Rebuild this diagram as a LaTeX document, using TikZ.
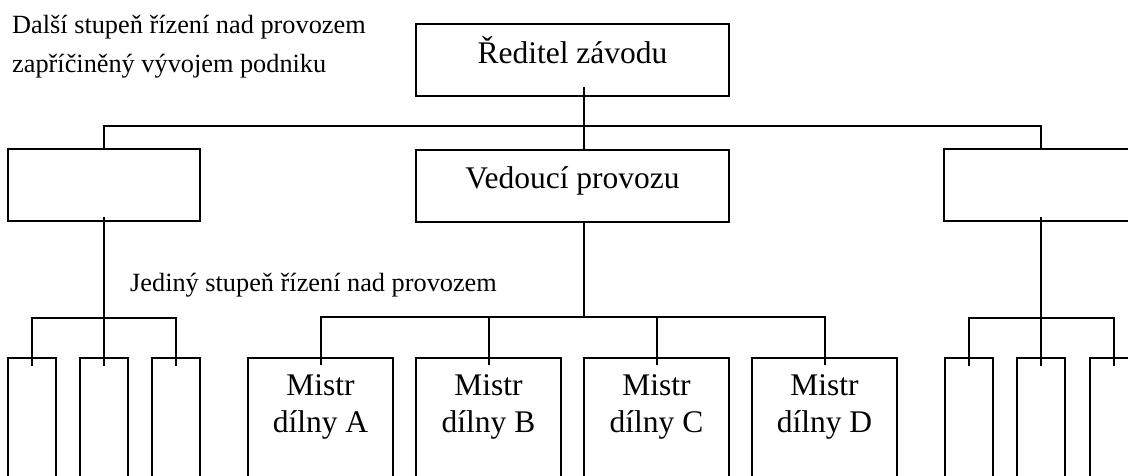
\documentclass[tikz,border=0pt]{standalone}
\usepackage{fontspec}
\setmainfont{Liberation Serif}
\tikzset{
  ln/.style={line width=2pt},
  bigbox/.style={draw, line width=2pt, minimum height=72pt, inner sep=0pt,
    font=\fontsize{31.5}{37}\selectfont, text height=20pt, text depth=14pt},
  mbox/.style={draw, line width=2pt, anchor=north, minimum width=145pt, minimum height=150pt, inner sep=0pt},
  sbox/.style={draw, line width=2pt, anchor=north, minimum width=48pt, minimum height=150pt, inner sep=0pt},
  mtext/.style={anchor=north, align=center, inner sep=0pt, yshift=-17.5pt,
    font=\fontsize{31.5}{37}\selectfont},
  smalltext/.style={anchor=base west, inner sep=0pt, font=\fontsize{26.3}{31}\selectfont},
}
\begin{document}
\begin{tikzpicture}[x=1pt,y=-1pt]
\useasboundingbox (0,0) rectangle (1128,475);
\clip (0,0) rectangle (1128,475);
% texts
\node[smalltext] (t1) at (12,33) {Další stupeň řízení nad provozem};
\node[smalltext] (t2) at (12,72) {zapříčiněný vývojem podniku};
\node[smalltext] (t3) at (130,291) {Jediný stupeň řízení nad provozem};
% top boxes
\node[bigbox, minimum width=313pt] (dir) at (572.5,60) {Ředitel závodu};
\node[bigbox, minimum width=313pt] (ved) at (572.5,185.5) {Vedoucí provozu};
\node[bigbox, minimum width=192pt] (lb) at (104,185) {};
\node[bigbox, minimum width=194pt] (rb) at (1041,185) {};
% mistr boxes
\node[mbox, label={[mtext]north:Mistr\\dílny A}] (ma) at (320.5,357) {};
\node[mbox, label={[mtext]north:Mistr\\dílny B}] (mb) at (488.5,357) {};
\node[mbox, label={[mtext]north:Mistr\\dílny C}] (mc) at (656.5,357) {};
\node[mbox, label={[mtext]north:Mistr\\dílny D}] (md) at (824.5,357) {};
% small boxes left
\node[sbox] (l1) at (32,357) {};
\node[sbox] (l2) at (104,357) {};
\node[sbox] (l3) at (176,357) {};
% small boxes right
\node[sbox] (r1) at (968.5,357) {};
\node[sbox] (r2) at (1041,357) {};
\node[sbox] (r3) at (1113.5,357) {};
% connectors
\coordinate (bus) at (584,126);
\coordinate (mbus) at (584,317);
\coordinate (lbus) at (104,318);
\coordinate (rbus) at (1041,318);
\draw[ln] ([yshift=10pt]bus |- dir.south) -- (bus |- ved.north);
\draw[ln] (lb.north) |- (bus) -| (rb.north);
\draw[ln] (bus |- ved.south) -- (mbus);
\draw[ln] ([yshift=-8pt]ma.north) |- (mbus) -| ([yshift=-8pt]md.north);
\draw[ln] ([yshift=-8pt]mb.north) -- (mb.north |- mbus);
\draw[ln] ([yshift=-8pt]mc.north) -- (mc.north |- mbus);
\draw[ln] ([yshift=5pt]lb.south) -- (lbus);
\draw[ln] ([yshift=-9pt]l1.north) |- (lbus) -| ([yshift=-9pt]l3.north);
\draw[ln] ([yshift=-9pt]l2.north) -- (lbus);
\draw[ln] ([yshift=5pt]rb.south) -- (rbus);
\draw[ln] ([yshift=-9pt]r1.north) |- (rbus) -| ([yshift=-9pt]r3.north);
\draw[ln] ([yshift=-9pt]r2.north) -- (rbus);
\end{tikzpicture}
\end{document}
